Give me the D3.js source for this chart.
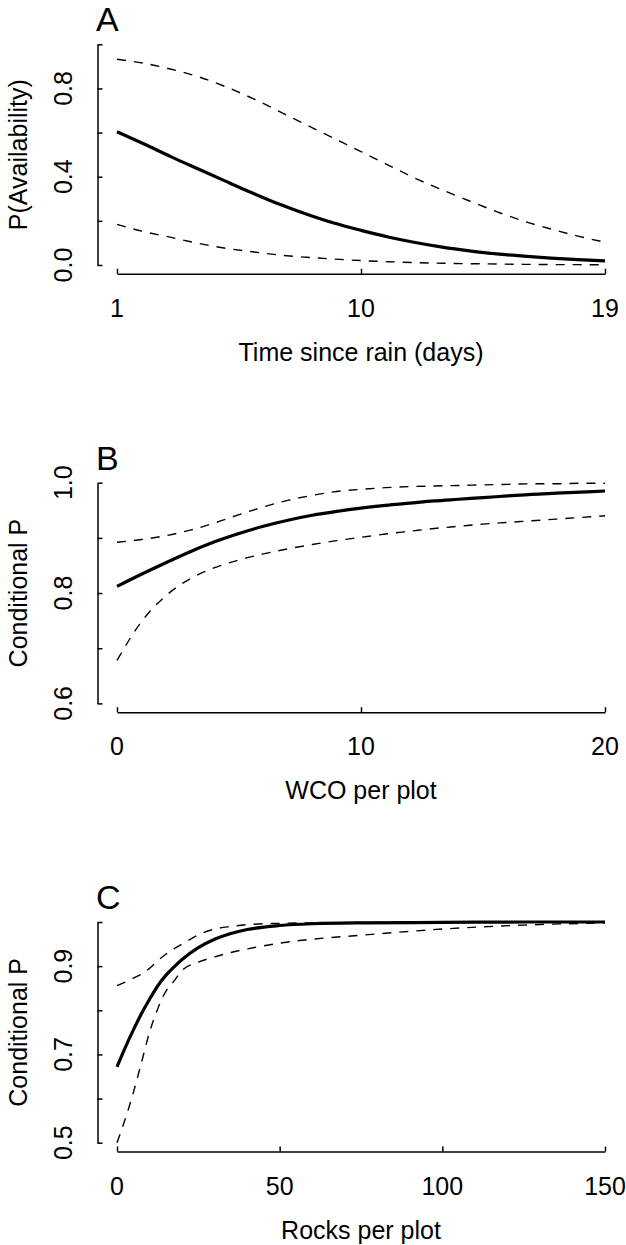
<!DOCTYPE html>
<html>
<head>
<meta charset="utf-8">
<script src="https://cdn.jsdelivr.net/npm/d3@7"></script>
<style>
  body { margin: 0; background: #fff; }
  text { font-family: "Liberation Sans", Arial, Helvetica, sans-serif; fill: #000; }
</style>
</head>
<body>
<div id="chart"></div>
<script>
// Panel A - time since rain
const daysA = [1, 2, 3, 4, 5, 6, 7, 8, 9, 10, 11, 12, 13, 14, 15, 16, 17, 18, 19];
const meanA = [0.604, 0.548, 0.490, 0.435, 0.380, 0.326, 0.275, 0.230, 0.190, 0.157, 0.127, 0.102, 0.081, 0.064, 0.050, 0.040, 0.031, 0.024, 0.019];
const upperA = [0.932, 0.914, 0.887, 0.853, 0.808, 0.755, 0.695, 0.634, 0.574, 0.514, 0.453, 0.393, 0.340, 0.290, 0.242, 0.199, 0.163, 0.131, 0.103];
const lowerA = [0.184, 0.151, 0.125, 0.098, 0.076, 0.060, 0.045, 0.035, 0.027, 0.020, 0.015, 0.011, 0.008, 0.006, 0.0045, 0.003, 0.002, 0.0015, 0.001];

// Panel B - WCO per plot
const wcoB = [0, 1, 2, 3, 4, 5, 6, 7, 8, 9, 10, 11, 12, 13, 14, 15, 16, 17, 18, 19, 20];
const meanB = [0.812, 0.834, 0.855, 0.875, 0.893, 0.908, 0.921, 0.932, 0.941, 0.948, 0.954, 0.959, 0.963, 0.967, 0.970, 0.973, 0.976, 0.979, 0.981, 0.983, 0.985];
const upperB = [0.892, 0.897, 0.904, 0.914, 0.927, 0.942, 0.956, 0.968, 0.977, 0.984, 0.988, 0.991, 0.993, 0.994, 0.995, 0.996, 0.997, 0.998, 0.998, 0.999, 0.999];
const lowerB = [0.678, 0.748, 0.795, 0.826, 0.846, 0.860, 0.871, 0.880, 0.888, 0.895, 0.901, 0.907, 0.912, 0.917, 0.921, 0.925, 0.928, 0.931, 0.934, 0.937, 0.940];

// Panel C - rocks per plot
const rocksC = [0, 2.5, 5, 7.5, 10, 12.5, 15, 17.5, 20, 25, 30, 35, 40, 50, 60, 75, 100, 125, 150];
const meanC = [0.672, 0.715, 0.755, 0.792, 0.825, 0.855, 0.879, 0.898, 0.915, 0.942, 0.961, 0.974, 0.983, 0.992, 0.996, 0.998, 0.999, 1.0, 1.0];
const upperC = [0.856, 0.864, 0.873, 0.882, 0.895, 0.912, 0.927, 0.939, 0.950, 0.971, 0.984, 0.990, 0.994, 0.997, 0.998, 0.999, 1.0, 1.0, 1.0];
const lowerC = [0.500, 0.553, 0.613, 0.681, 0.750, 0.803, 0.843, 0.866, 0.890, 0.909, 0.921, 0.931, 0.939, 0.952, 0.961, 0.970, 0.984, 0.993, 0.998];

// Axis settings
const xTicksA = [1, 10, 19];
const xTicksB = [0, 10, 20];
const xTicksC = [0, 50, 100, 150];
const yTicksA = [0, 0.2, 0.4, 0.6, 0.8, 1.0];
const yTicksB = [0.6, 0.7, 0.8, 0.9, 1.0];
const yTicksC = [0.5, 0.6, 0.7, 0.8, 0.9, 1.0];
const yLabelsA = ['0.0', '', '0.4', '', '0.8', ''];
const yLabelsB = ['0.6', '', '0.8', '', '1.0'];
const yLabelsC = ['0.5', '', '0.7', '', '0.9', ''];

const panels = [
    {letter: 'A', top: 44.3, x: daysA, mean: meanA, upper: upperA, lower: lowerA,
     xDomain: [1, 19], yDomain: [0, 1], xTicks: xTicksA, yTicks: yTicksA, yLabels: yLabelsA,
     xTitle: 'Time since rain (days)', yTitle: 'P(Availability)'},
    {letter: 'B', top: 482.7, x: wcoB, mean: meanB, upper: upperB, lower: lowerB,
     xDomain: [0, 20], yDomain: [0.6, 1], xTicks: xTicksB, yTicks: yTicksB, yLabels: yLabelsB,
     xTitle: 'WCO per plot', yTitle: 'Conditional P'},
    {letter: 'C', top: 922, x: rocksC, mean: meanC, upper: upperC, lower: lowerC,
     xDomain: [0, 150], yDomain: [0.5, 1], xTicks: xTicksC, yTicks: yTicksC, yLabels: yLabelsC,
     xTitle: 'Rocks per plot', yTitle: 'Conditional P'}
];

const width = 626;
const height = 1245;
const plotLeft = 117;
const plotRight = 605;
const plotHeight = 220.7;
const axisX = 97.5;
const tickLen = 5;
const fontSize = '25px';

const svg = d3.select('#chart').append('svg')
    .attr('width', width)
    .attr('height', height);

panels.forEach(p => {
    const g = svg.append('g');
    const x = d3.scaleLinear().domain(p.xDomain).range([plotLeft, plotRight]);
    const y = d3.scaleLinear().domain(p.yDomain).range([p.top + plotHeight, p.top]);
    const axisY = p.top + plotHeight + 8.8;

    // y axis with inward ticks
    const yAxis = d3.axisLeft(y)
        .tickValues(p.yTicks)
        .tickSize(-tickLen)
        .tickSizeOuter(0)
        .tickFormat('');
    const yg = g.append('g')
        .attr('transform', `translate(${axisX},0)`)
        .call(yAxis);

    // x axis with inward ticks
    const xAxis = d3.axisBottom(x)
        .tickValues(p.xTicks)
        .tickSize(-tickLen)
        .tickSizeOuter(0)
        .tickFormat('');
    const xg = g.append('g')
        .attr('transform', `translate(0,${axisY})`)
        .call(xAxis);

    [yg, xg].forEach(a => {
        a.selectAll('path, line').attr('stroke', '#000').attr('stroke-width', 1.5);
    });

    // rotated y tick labels
    g.selectAll('.ylab')
        .data(p.yTicks.filter((t, i) => p.yLabels[i] !== ''))
        .enter()
        .append('text')
        .attr('transform', d => `translate(72,${y(d)}) rotate(-90)`)
        .attr('text-anchor', 'middle')
        .attr('font-size', fontSize)
        .text(d => p.yLabels[p.yTicks.indexOf(d)]);

    // x tick labels
    g.selectAll('.xlab')
        .data(p.xTicks)
        .enter()
        .append('text')
        .attr('x', d => x(d))
        .attr('y', axisY + 43)
        .attr('text-anchor', 'middle')
        .attr('font-size', fontSize)
        .text(d => d);

    // axis titles
    g.append('text')
        .attr('x', (plotLeft + plotRight) / 2)
        .attr('y', axisY + 87)
        .attr('text-anchor', 'middle')
        .attr('font-size', fontSize)
        .text(p.xTitle);

    g.append('text')
        .attr('transform', `translate(27,${p.top + plotHeight / 2}) rotate(-90)`)
        .attr('text-anchor', 'middle')
        .attr('font-size', fontSize)
        .text(p.yTitle);

    // panel letter
    g.append('text')
        .attr('x', 96)
        .attr('y', p.top - 13)
        .attr('font-size', '34px')
        .text(p.letter);

    const line = d3.line()
        .x(d => x(d[0]))
        .y(d => y(d[1]))
        .curve(d3.curveMonotoneX);

    [p.upper, p.lower].forEach(vals => {
        g.append('path')
            .attr('d', line(p.x.map((v, i) => [v, vals[i]])))
            .attr('fill', 'none')
            .attr('stroke', '#000')
            .attr('stroke-width', 1.4)
            .attr('stroke-dasharray', '9,8');
    });

    g.append('path')
        .attr('d', line(p.x.map((v, i) => [v, p.mean[i]])))
        .attr('fill', 'none')
        .attr('stroke', '#000')
        .attr('stroke-width', 3.2);
});
</script>
</body>
</html>
